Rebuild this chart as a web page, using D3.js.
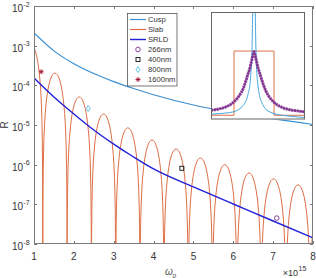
<!DOCTYPE html>
<html><head><meta charset="utf-8">
<script src="https://cdn.jsdelivr.net/npm/d3@7"></script>
<style>body{margin:0;background:#fff}svg{display:block;font-family:"Liberation Sans",Arial,sans-serif}</style>
</head><body><svg id="c" width="316" height="278"></svg>
<script>
const xTicks=[1,2,3,4,5,6,7,8];
const yTickExps=[-2,-3,-4,-5,-6,-7,-8];
const cuspX=[1,1.5,2,2.5,3,3.5,4,5,6,7,8];
const cuspR=[2.09e-3,7.4e-4,3.5e-4,1.98e-4,1.24e-4,8.3e-5,5.8e-5,3.2e-5,2.05e-5,1.42e-5,1.03e-5];
const srldX=[1,1.5,2,2.5,3,3.5,4,5,6,7,8];
const srldR=[1.53e-4,5.1e-5,1.9e-5,7.5e-6,3.3e-6,1.56e-6,7.8e-7,2.74e-7,1.02e-7,3.8e-8,1.42e-8];
const slabZeros=[0.61,1.22,1.83,2.44,3.05,3.66,4.26,4.87,5.48,6.09,6.70,7.32,7.93,8.54];
const slabPeaks=[1.1e-3,2.04e-4,5.1e-5,1.9e-5,8.5e-6,4.2e-6,2.5e-6,1.48e-6,1.0e-6,6.2e-7,4.4e-7,3.1e-7,2.3e-7];
const lobeFrac=[0,0.005,0.01,0.02,0.035,0.05,0.075,0.1,0.15,0.2,0.25,0.3,0.35,0.4,0.45,0.5];
const lobeRel=[1e-7,2.47e-4,9.86e-4,3.94e-3,0.012,0.0245,0.0545,0.0955,0.206,0.3455,0.5,0.6545,0.794,0.9045,0.9755,1];
const markerNames=["266nm","400nm","800nm","1600nm"];
const markerX=[7.09,4.71,2.36,1.18];
const markerR=[4.5e-8,8.1e-7,2.6e-5,2.2e-4];
const insetX=[-43,-35,-28,-21,-15,-11,-8,-6,-4,-3,-2,-1,0,1,2,3,4,6,8,11,15,21,28,35,43,51];
const insetMeas=[0.082,0.094,0.114,0.152,0.215,0.28,0.36,0.42,0.48,0.52,0.56,0.6,0.63,0.6,0.56,0.52,0.48,0.42,0.36,0.28,0.21,0.148,0.108,0.088,0.076,0.066];
const insetCusp=[0.045,0.05,0.056,0.066,0.09,0.125,0.17,0.23,0.33,0.44,0.65,1.3,3,1.3,0.62,0.41,0.31,0.2,0.15,0.1,0.07,0.048,0.035,0.027,0.02,0.014];
const insetSlabX=[-43,-20,-20,20,20,51];
const insetSlabY=[0.035,0.035,0.635,0.635,0.035,0.035];

const C={cusp:"#3a8fd2",slab:"#de7046",srld:"#2020d8",p266:"#7E2F8E",p400:"#111",p800:"#4DBEEE",p1600:"#A2142F",axis:"#7a7a7a",text:"#333"};
const svg=d3.select("#c");
const L=34,R=313,T=6,B=244;
const x=d3.scaleLinear().domain([1,8]).range([L,R]);
const y=d3.scaleLog().domain([1e-8,1e-2]).range([B,T]);

svg.append("clipPath").attr("id","main").append("rect").attr("x",L).attr("y",T).attr("width",R-L).attr("height",B-T);
const g=svg.append("g").attr("clip-path","url(#main)");
const line=d3.line().x(d=>x(d[0])).y(d=>y(d[1]));

// slab lobes
const slabPts=[];
for(let i=0;i<slabPeaks.length;i++){
  const z0=slabZeros[i],z1=slabZeros[i+1];
  const full=lobeFrac.map((f,j)=>[f,lobeRel[j]]);
  const mirror=lobeFrac.slice(0,-1).reverse().map((f,j)=>[1-f,lobeRel[lobeFrac.length-2-j]]);
  full.concat(mirror).forEach(([f,r])=>slabPts.push([z0+f*(z1-z0),slabPeaks[i]*r]));
}
g.append("path").attr("d",line(slabPts)).attr("fill","none").attr("stroke",C.slab).attr("stroke-width",1);
g.append("path").attr("d",line.curve(d3.curveMonotoneX)(cuspX.map((v,i)=>[v,cuspR[i]]))).attr("fill","none").attr("stroke",C.cusp).attr("stroke-width",1.2);
g.append("path").attr("d",line.curve(d3.curveMonotoneX)(srldX.map((v,i)=>[v,srldR[i]]))).attr("fill","none").attr("stroke",C.srld).attr("stroke-width",1.4);

function marker(sel,name,cx,cy){
  if(name==="266nm") sel.append("circle").attr("cx",cx).attr("cy",cy).attr("r",2.3).attr("fill","none").attr("stroke",C.p266).attr("stroke-width",0.9);
  else if(name==="400nm") sel.append("rect").attr("x",cx-2).attr("y",cy-2).attr("width",4).attr("height",4).attr("fill","none").attr("stroke",C.p400).attr("stroke-width",0.9);
  else if(name==="800nm") sel.append("path").attr("d",`M${cx},${cy-3}L${cx+2},${cy}L${cx},${cy+3}L${cx-2},${cy}Z`).attr("fill","none").attr("stroke",C.p800).attr("stroke-width",0.9);
  else sel.append("path").attr("d",`M${cx-2.5},${cy}H${cx+2.5}M${cx},${cy-2.5}V${cy+2.5}M${cx-1.8},${cy-1.8}L${cx+1.8},${cy+1.8}M${cx-1.8},${cy+1.8}L${cx+1.8},${cy-1.8}`).attr("stroke",C.p1600).attr("stroke-width",0.9);
}
markerNames.forEach((n,i)=>marker(g,n,x(markerX[i]),y(markerR[i])));

// inset
const IL=211,IR=305,IT=12,IB=119.5;
const ix=d3.scaleLinear().domain([-43,51]).range([IL,IR]);
const iy=d3.scaleLinear().domain([0,1]).range([119,12]);
svg.append("rect").attr("x",IL).attr("y",IT).attr("width",IR-IL).attr("height",IB-IT).attr("fill","#fff");
svg.append("clipPath").attr("id","ins").append("rect").attr("x",IL).attr("y",IT).attr("width",IR-IL).attr("height",IB-IT);
const gi=svg.append("g").attr("clip-path","url(#ins)");
const il=d3.line().x(d=>ix(d[0])).y(d=>iy(d[1]));
gi.append("path").attr("d",il(insetSlabX.map((v,i)=>[v,insetSlabY[i]]))).attr("fill","none").attr("stroke",C.slab).attr("stroke-width",1);
gi.append("path").attr("d",il.curve(d3.curveMonotoneX)(insetX.map((v,i)=>[v,insetCusp[i]]))).attr("fill","none").attr("stroke","#45a6e0").attr("stroke-width",1);
gi.append("path").attr("d",il.curve(d3.curveMonotoneX)(insetX.map((v,i)=>[v,insetMeas[i]]))).attr("fill","none").attr("stroke",C.p266).attr("stroke-width",3).attr("stroke-dasharray","2.2,0.6").attr("opacity",0.9);
gi.append("path").attr("d",il.curve(d3.curveMonotoneX)(insetX.map((v,i)=>[v,insetMeas[i]]))).attr("fill","none").attr("stroke",C.p266).attr("stroke-width",1);
svg.append("rect").attr("x",IL+0.5).attr("y",IT+0.5).attr("width",IR-IL-1).attr("height",IB-IT-1).attr("fill","none").attr("stroke","#666").attr("stroke-width",1);

// axes box & ticks
const ax=svg.append("g").attr("stroke",C.axis).attr("stroke-width",1).attr("fill","none");
ax.append("rect").attr("x",L+0.5).attr("y",T+0.5).attr("width",R-L-1).attr("height",B-T-1);
xTicks.forEach(t=>{const px=Math.round(x(t))+0.5;
  ax.append("line").attr("x1",px).attr("x2",px).attr("y1",B).attr("y2",B-3);
  ax.append("line").attr("x1",px).attr("x2",px).attr("y1",T).attr("y2",T+3);
  svg.append("text").attr("x",x(t)).attr("y",259.5).attr("text-anchor","middle").attr("font-size",10).attr("fill",C.text).text(t);
});
yTickExps.forEach(e=>{const py=Math.round(y(Math.pow(10,e)))+0.5;
  ax.append("line").attr("x1",L).attr("x2",L+3).attr("y1",py).attr("y2",py);
  ax.append("line").attr("x1",R).attr("x2",R-3).attr("y1",py).attr("y2",py);
  svg.append("text").attr("x",23).attr("y",y(Math.pow(10,e))+6).attr("text-anchor","end").attr("font-size",10).attr("fill",C.text).text("10");
  svg.append("text").attr("x",23.3).attr("y",y(Math.pow(10,e))+0.5).attr("font-size",7).attr("fill",C.text).text(String(e));
});
svg.append("text").attr("transform","translate(8,125) rotate(-90)").attr("text-anchor","middle").attr("font-size",10).attr("fill",C.text).text("R");
svg.append("text").attr("x",165).attr("y",275).attr("font-size",10).attr("font-style","italic").attr("fill","#555").text("ω");
svg.append("text").attr("x",172.5).attr("y",277.5).attr("font-size",6.5).attr("font-style","italic").attr("fill","#555").text("p");
svg.append("text").attr("x",298).attr("y",276).attr("text-anchor","end").attr("font-size",9).attr("fill",C.text).text("×10");
svg.append("text").attr("x",298.5).attr("y",270.5).attr("font-size",7).attr("fill",C.text).text("15");

// legend
const lg=svg.append("g");
lg.append("rect").attr("x",127.5).attr("y",13.5).attr("width",49.5).attr("height",72.5).attr("fill","#fff").attr("stroke","#555").attr("stroke-width",0.8);
const legNames=["Cusp","Slab","SRLD"].concat(markerNames);
const legCols=[C.cusp,C.slab,C.srld];
legNames.forEach((n,i)=>{const ly=19.5+i*10;
  if(i<3) lg.append("line").attr("x1",130).attr("x2",146).attr("y1",ly).attr("y2",ly).attr("stroke",legCols[i]).attr("stroke-width",i===2?1.4:1.2);
  else marker(lg,n,138,ly);
  lg.append("text").attr("x",148).attr("y",ly+2.7).attr("font-size",7.6).attr("fill",C.text).text(n);
});
</script></body></html>
